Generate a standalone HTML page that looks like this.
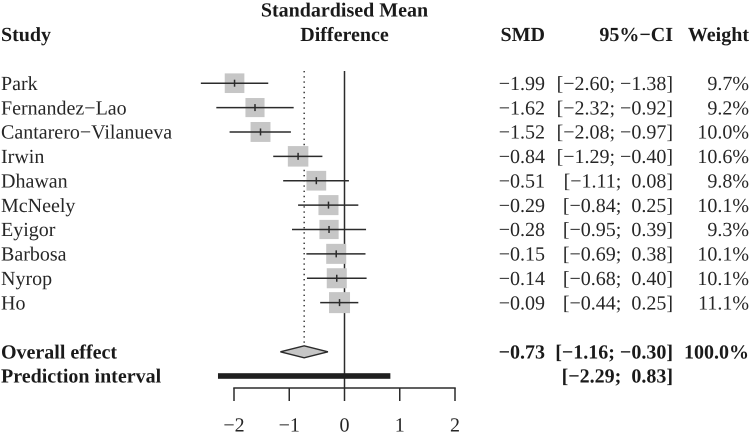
<!DOCTYPE html>
<html lang="en">
<head>
<meta charset="utf-8">
<title>Forest plot</title>
<style>
html,body{margin:0;padding:0;background:#fff;width:750px;height:438px;overflow:hidden}
svg{display:block}
text{font-family:"Liberation Serif",serif;font-size:20px;fill:#262626;white-space:pre;text-rendering:geometricPrecision}
.b{font-weight:bold;fill:#1a1a1a}
</style>
</head>
<body>
<svg id="plot" xmlns="http://www.w3.org/2000/svg" width="750" height="438" viewBox="0 0 750 438">
  <g id="grid"></g>
  <g id="marks"></g>
  <g id="summary"></g>
  <g id="axis"></g>
  <g id="table"></g>
  <g id="heads">
    <text x="344.5" y="16.5" text-anchor="middle" class="b">Standardised Mean</text>
    <text x="344.5" y="41" text-anchor="middle" class="b">Difference</text>
    <text x="1" y="41" class="b">Study</text>
    <text x="545" y="41" text-anchor="end" class="b">SMD</text>
    <text x="673" y="41" text-anchor="end" class="b">95%−CI</text>
    <text x="749" y="41" text-anchor="end" class="b">Weight</text>
  </g>
</svg>
<script>
const studies = ["Park","Fernandez−Lao","Cantarero−Vilanueva","Irwin","Dhawan","McNeely","Eyigor","Barbosa","Nyrop","Ho"];
const smd = [-1.99,-1.62,-1.52,-0.84,-0.51,-0.29,-0.28,-0.15,-0.14,-0.09];
const ciLower = [-2.60,-2.32,-2.08,-1.29,-1.11,-0.84,-0.95,-0.69,-0.68,-0.44];
const ciUpper = [-1.38,-0.92,-0.97,-0.40,0.08,0.25,0.39,0.38,0.40,0.25];
const weights = [9.7,9.2,10.0,10.6,9.8,10.1,9.3,10.1,10.1,11.1];
const overallEffect = [-0.73];
const overallLower = [-1.16];
const overallUpper = [-0.30];
const overallWeight = [100.0];
const predictionLower = [-2.29];
const predictionUpper = [0.83];
const xTicks = [-2,-1,0,1,2];

const NS = "http://www.w3.org/2000/svg";
const xScale = v => 344.5 + v * 55.25;
const rowY = i => 83.2 + i * 24.38;
const fmt = v => (v < 0 ? "−" : "") + Math.abs(v).toFixed(2);
const ink = "#2b2b2b";

function make(tag, parent, attrs, content) {
  const el = document.createElementNS(NS, tag);
  for (const k in attrs) el.setAttribute(k, attrs[k]);
  if (content !== undefined) el.textContent = content;
  parent.appendChild(el);
  return el;
}
function ciText(lo, hi) {
  return "[" + fmt(lo) + ";" + (hi < 0 ? " " : "  ") + fmt(hi) + "]";
}

const grid = document.getElementById("grid");
const marks = document.getElementById("marks");
const summary = document.getElementById("summary");
const axis = document.getElementById("axis");
const table = document.getElementById("table");

const overallY = 351.8;
const predY = 376;
const axisY = 388;
const baseOffset = 6.7;

const dotted = make("line", grid, {x1:xScale(overallEffect[0]),x2:xScale(overallEffect[0]),y1:71,y2:overallY-6,stroke:ink,"stroke-width":1.4,"stroke-dasharray":"1.4 3.8"});



const zero = make("line", grid, {x1:xScale(0),x2:xScale(0),y1:71,y2:axisY,stroke:ink,"stroke-width":1.5});



studies.forEach((name, i) => {
  const y = rowY(i);
  const size = 6.3 * Math.sqrt(weights[i]);
  const cx = xScale(smd[i]);

  const square = make("rect", marks, {x:cx-size/2,y:y-size/2,width:size,height:size,fill:"#c6c6c6"});
  
  

  const ci = make("line", marks, {x1:xScale(ciLower[i]),x2:xScale(ciUpper[i]),y1:y,y2:y,stroke:ink,"stroke-width":1.5});
  
  

  const tick = make("line", marks, {x1:cx,x2:cx,y1:y-3.5,y2:y+3.5,stroke:ink,"stroke-width":1.5});
  
  

  const base = y + baseOffset;

  const t1 = make("text", table, {x:1,y:base}, name);
  
  

  const t2 = make("text", table, {x:545,y:base,"text-anchor":"end"}, fmt(smd[i]));
  
  

  const t3 = make("text", table, {x:673,y:base,"text-anchor":"end"}, ciText(ciLower[i], ciUpper[i]));
  
  

  const t4 = make("text", table, {x:749,y:base,"text-anchor":"end"}, weights[i].toFixed(1) + "%");
  
  
});

const diamondPts = [
  [xScale(overallLower[0]), overallY],
  [xScale(overallEffect[0]), overallY-6],
  [xScale(overallUpper[0]), overallY],
  [xScale(overallEffect[0]), overallY+6]
].map(p => p.join(",")).join(" ");
const diamond = make("polygon", summary, {points:diamondPts,fill:"#c6c6c6",stroke:ink,"stroke-width":1.4});



const pred = make("rect", summary, {x:xScale(predictionLower[0]),y:predY-2.8,width:xScale(predictionUpper[0])-xScale(predictionLower[0]),height:5.6,fill:"#1f1f1f"});



const ov1 = make("text", table, {x:1,y:overallY+baseOffset,class:"b"}, "Overall effect");



const ov2 = make("text", table, {x:545,y:overallY+baseOffset,"text-anchor":"end",class:"b"}, fmt(overallEffect[0]));



const ov3 = make("text", table, {x:673,y:overallY+baseOffset,"text-anchor":"end",class:"b"}, ciText(overallLower[0], overallUpper[0]));



const ov4 = make("text", table, {x:749,y:overallY+baseOffset,"text-anchor":"end",class:"b"}, overallWeight[0].toFixed(1) + "%");



const pr1 = make("text", table, {x:1,y:predY+baseOffset,class:"b"}, "Prediction interval");



const pr2 = make("text", table, {x:673,y:predY+baseOffset,"text-anchor":"end",class:"b"}, ciText(predictionLower[0], predictionUpper[0]));



const axisLine = make("line", axis, {x1:xScale(xTicks[0])-0.75,x2:xScale(xTicks[xTicks.length-1])+0.75,y1:axisY,y2:axisY,stroke:ink,"stroke-width":1.5});



xTicks.forEach(v => {
  const m = make("line", axis, {x1:xScale(v),x2:xScale(v),y1:axisY,y2:axisY+13,stroke:ink,"stroke-width":1.5});
  
  

  const label = make("text", axis, {x:xScale(v),y:431.5,"text-anchor":"middle"}, (v < 0 ? "−" : "") + Math.abs(v));
  
  
});
</script>
</body>
</html>
